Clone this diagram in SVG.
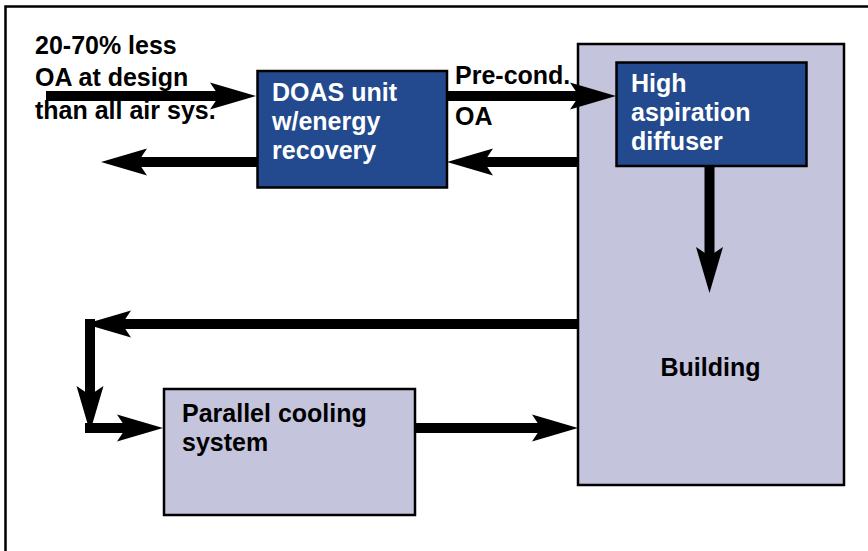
<svg xmlns="http://www.w3.org/2000/svg" width="868" height="551" viewBox="0 0 868 551">
  <style>
    .t { font-family: "Liberation Sans", Arial, sans-serif; font-weight: bold; font-size: 25px; fill: #000; }
    .w { fill: #fff; }
    .dark { fill: #234a8e; stroke: #000; stroke-width: 2.5; }
    .light { fill: #c4c4dd; stroke: #000; stroke-width: 2.5; }
    .shaft { fill: none; stroke: #000; stroke-width: 10; stroke-linecap: butt; }
  </style>
  <defs>
    <marker id="ah" markerUnits="userSpaceOnUse" markerWidth="50" markerHeight="30" viewBox="0 -15 50 30" refX="16" refY="0" orient="auto" overflow="visible">
      <path d="M0,-13.5 L46,0 L0,13.5 L9,0 Z" fill="#000"/>
    </marker>
  </defs>
  <rect width="868" height="551" fill="#fff"/>
  <path d="M5.5,551 V6.5 H868" fill="none" stroke="#000" stroke-width="2.5"/>

  <g id="building">
    <rect class="light" x="578" y="44" width="266" height="441"/>
    <text class="t" x="710.5" y="376" text-anchor="middle">Building</text>
  </g>

  <g id="doas">
    <rect class="dark" x="257.5" y="71" width="189.5" height="116.5"/>
    <text class="t w" x="272" y="101">DOAS unit</text>
    <text class="t w" x="272" y="130">w/energy</text>
    <text class="t w" x="272" y="159">recovery</text>
  </g>

  <g id="diffuser">
    <rect class="dark" x="616.5" y="62.5" width="190" height="103.5"/>
    <text class="t w" x="631" y="92">High</text>
    <text class="t w" x="631" y="121">aspiration</text>
    <text class="t w" x="631" y="150">diffuser</text>
  </g>

  <g id="parallel">
    <rect class="light" x="164" y="389" width="251" height="126"/>
    <text class="t" x="182" y="422">Parallel cooling</text>
    <text class="t" x="182" y="451">system</text>
  </g>

  <g id="labels">
    <text class="t" x="35" y="54">20-70% less</text>
    <text class="t" x="35" y="86">OA at design</text>
    <text class="t" x="35" y="119">than all air sys.</text>
    <text class="t" x="455" y="84">Pre-cond.</text>
    <text class="t" x="455" y="125">OA</text>
  </g>

  <g id="connectors">
    <path class="shaft" d="M46,96 H226" marker-end="url(#ah)"/>
    <path class="shaft" d="M257,162 H131" marker-end="url(#ah)"/>
    <path class="shaft" d="M447,96 H586" marker-end="url(#ah)"/>
    <path class="shaft" d="M578,162 H477" marker-end="url(#ah)"/>
    <path class="shaft" d="M709.5,166 V263" marker-end="url(#ah)"/>
    <path class="shaft" d="M578,324 H115" marker-end="url(#ah)"/>
    <path class="shaft" d="M90,319 V402" marker-end="url(#ah)"/>
    <path class="shaft" d="M85,428 H133" marker-end="url(#ah)"/>
    <path class="shaft" d="M415,428 H548" marker-end="url(#ah)"/>
  </g>
</svg>
